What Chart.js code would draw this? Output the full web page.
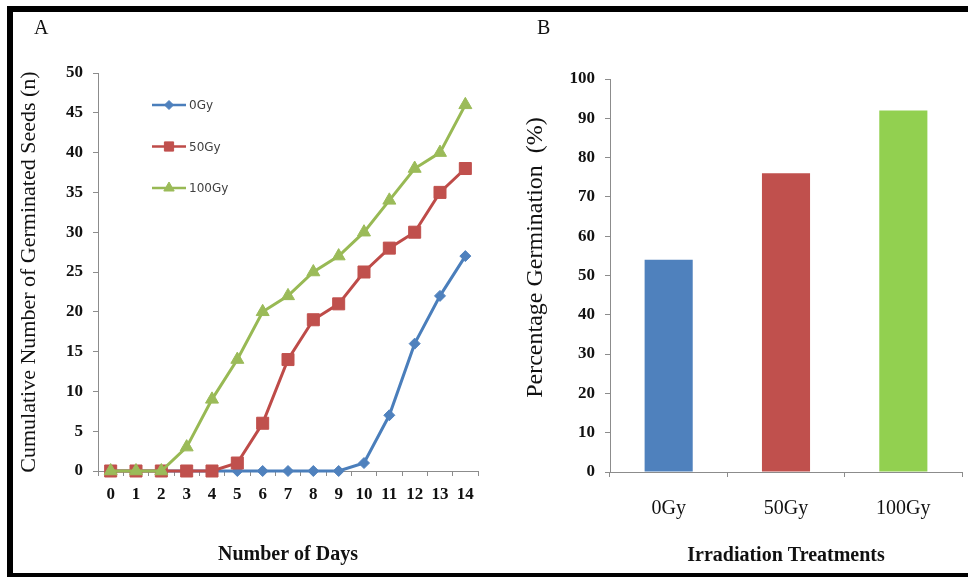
<!DOCTYPE html>
<html><head><meta charset="utf-8">
<script src="https://cdn.jsdelivr.net/npm/chart.js@4.4.1/dist/chart.umd.min.js"></script>
<style>
html,body{margin:0;padding:0;background:#fff;}
#wrap{position:relative;width:968px;height:577px;overflow:hidden;background:#fff;}
.bd{position:absolute;background:#000;z-index:5;}
.lbl{position:absolute;font-family:"Liberation Serif",serif;font-size:20px;color:#111;line-height:20px;}
canvas{position:absolute;top:0;}
</style></head><body>
<div id="wrap">
<canvas id="cA" width="500" height="577" style="left:0px"></canvas>
<canvas id="cB" width="468" height="577" style="left:500px"></canvas>
<div class="bd" style="left:7px;top:6px;width:961px;height:6px"></div>
<div class="bd" style="left:7px;top:6px;width:6px;height:571px"></div>
<div class="bd" style="left:7px;top:573px;width:961px;height:4px"></div>
<div class="lbl" style="left:34px;top:17px">A</div>
<div class="lbl" style="left:537px;top:17px">B</div>
</div>
<script>
// ---- data ----
const days = ['0','1','2','3','4','5','6','7','8','9','10','11','12','13','14'];
const seriesNames = ['0Gy','50Gy','100Gy'];
const gy0   = [0,0,0,0,0,0,0,0,0,0,1,7,16,22,27];
const gy50  = [0,0,0,0,0,1,6,14,19,21,25,28,30,35,38];
const gy100 = [0,0,0,3,9,14,20,22,25,27,30,34,38,40,46];
const treatments = ['0Gy','50Gy','100Gy'];
const germinationPct = [54,76,92];
const yTicksA = [0,50,5];   // min, max, step
const yTicksB = [0,100,10];

const AX = '#8c8c8c';
const SERIF = '"Liberation Serif", "Times New Roman", serif';
const lineCol = ['#4A7EBB','#BE4B48','#98B954'];
const markCol = ['#4F81BD','#C0504D','#9BBB59'];
const barCol = ['#4F81BD','#C0504D','#92D050'];

const legendRadius = [4.5, 6.5, 6];
const insideLegend = {
  id:'insideLegend',
  afterDatasetsDraw(chart){
    const {ctx, chartArea} = chart;
    const x0 = chartArea.left + 54, y0 = chartArea.top + 32, gap = 41.5;
    chart.data.datasets.forEach((ds,i)=>{
      const y = y0 + i*gap;
      ctx.save();
      ctx.strokeStyle = ds.borderColor; ctx.lineWidth = 2.5;
      ctx.beginPath(); ctx.moveTo(x0,y); ctx.lineTo(x0+34,y); ctx.stroke();
      ctx.fillStyle = ds.pointBackgroundColor; ctx.strokeStyle = ds.pointBorderColor; ctx.lineWidth = 1;
      Chart.helpers.drawPoint(ctx, {pointStyle: ds.pointStyle, radius: legendRadius[i], borderWidth:1, rotation:0}, x0+17, y);
      ctx.fillStyle = '#404040';
      ctx.font = '12px "DejaVu Sans", sans-serif';
      ctx.textBaseline = 'middle'; ctx.textAlign = 'left';
      ctx.fillText(ds.label, x0+37, y+1);
      ctx.restore();
    });
  }
};

function mkDs(label, data, i, style, r){
  return {label, data, borderColor: lineCol[i], backgroundColor: markCol[i], borderWidth: 3,
    pointStyle: style, pointRadius: r, pointHoverRadius: r, pointBackgroundColor: markCol[i],
    pointBorderColor: markCol[i], pointBorderWidth: 1, tension: 0, order: 2 - i, clip: false};
}

new Chart(document.getElementById('cA'), {
  type:'line',
  data:{ labels: days, datasets:[
    mkDs(seriesNames[0], gy0, 0, 'rectRot', 5.5),
    mkDs(seriesNames[1], gy50, 1, 'rect', 8.5),
    mkDs(seriesNames[2], gy100, 2, 'triangle', 7.5)
  ]},
  options:{
    responsive:false, animation:false, maintainAspectRatio:false,
    layout:{padding:{left:0, top:73, right:22, bottom:0}},
    plugins:{legend:{display:false}, tooltip:{enabled:false}},
    scales:{
      x:{ type:'category', offset:true,
        grid:{display:true, offset:true, drawOnChartArea:false, tickLength:5, color:AX},
        border:{display:true, color:AX, width:1},
        ticks:{color:'#111', font:{family:SERIF, size:17, weight:'bold'}, padding:8, maxRotation:0, autoSkip:false},
        title:{display:true, text:'Number of Days', color:'#111', font:{family:SERIF, size:20, weight:'bold'}, padding:{top:0,bottom:10}},
        afterFit(s){ s.height = 106; }
      },
      y:{ min:yTicksA[0], max:yTicksA[1],
        grid:{display:true, drawOnChartArea:false, tickLength:5, color:AX},
        border:{display:true, color:AX, width:1},
        ticks:{stepSize:yTicksA[2], color:'#111', font:{family:SERIF, size:17, weight:'bold'}, padding:10},
        title:{display:true, text:'Cumulative Number of Germinated Seeds (n)', color:'#111', font:{family:SERIF, size:22, weight:'normal'}, padding:{top:16,bottom:0}},
        afterFit(s){ s.width = 98; }
      }
    }
  },
  plugins:[insideLegend]
});

new Chart(document.getElementById('cB'), {
  type:'bar',
  data:{ labels: treatments, datasets:[{ label:'Percentage Germination', data: germinationPct,
    backgroundColor: barCol, borderWidth:0, barPercentage:0.41, categoryPercentage:1 }]},
  options:{
    responsive:false, animation:false, maintainAspectRatio:false,
    layout:{padding:{left:0, top:79, right:6, bottom:0}},
    plugins:{legend:{display:false}, tooltip:{enabled:false}},
    scales:{
      x:{ grid:{display:true, offset:true, drawOnChartArea:false, tickLength:5, color:AX},
        border:{display:true, color:AX, width:1},
        ticks:{color:'#111', font:{family:SERIF, size:20, weight:'normal'}, padding:20, maxRotation:0},
        title:{display:true, text:'Irradiation Treatments', color:'#111', font:{family:SERIF, size:20, weight:'bold'}, padding:{top:0,bottom:9}},
        afterFit(s){ s.height = 105; }
      },
      y:{ min:yTicksB[0], max:yTicksB[1],
        grid:{display:true, drawOnChartArea:false, tickLength:5, color:AX},
        border:{display:true, color:AX, width:1},
        ticks:{stepSize:yTicksB[2], color:'#111', font:{family:SERIF, size:17, weight:'bold'}, padding:10},
        title:{display:true, text:'      Percentage Germination  (%)', color:'#111', font:{family:SERIF, size:24, weight:'normal'}, padding:{top:21,bottom:0}},
        afterFit(s){ s.width = 110; }
      }
    }
  }
});
</script>
</body></html>
